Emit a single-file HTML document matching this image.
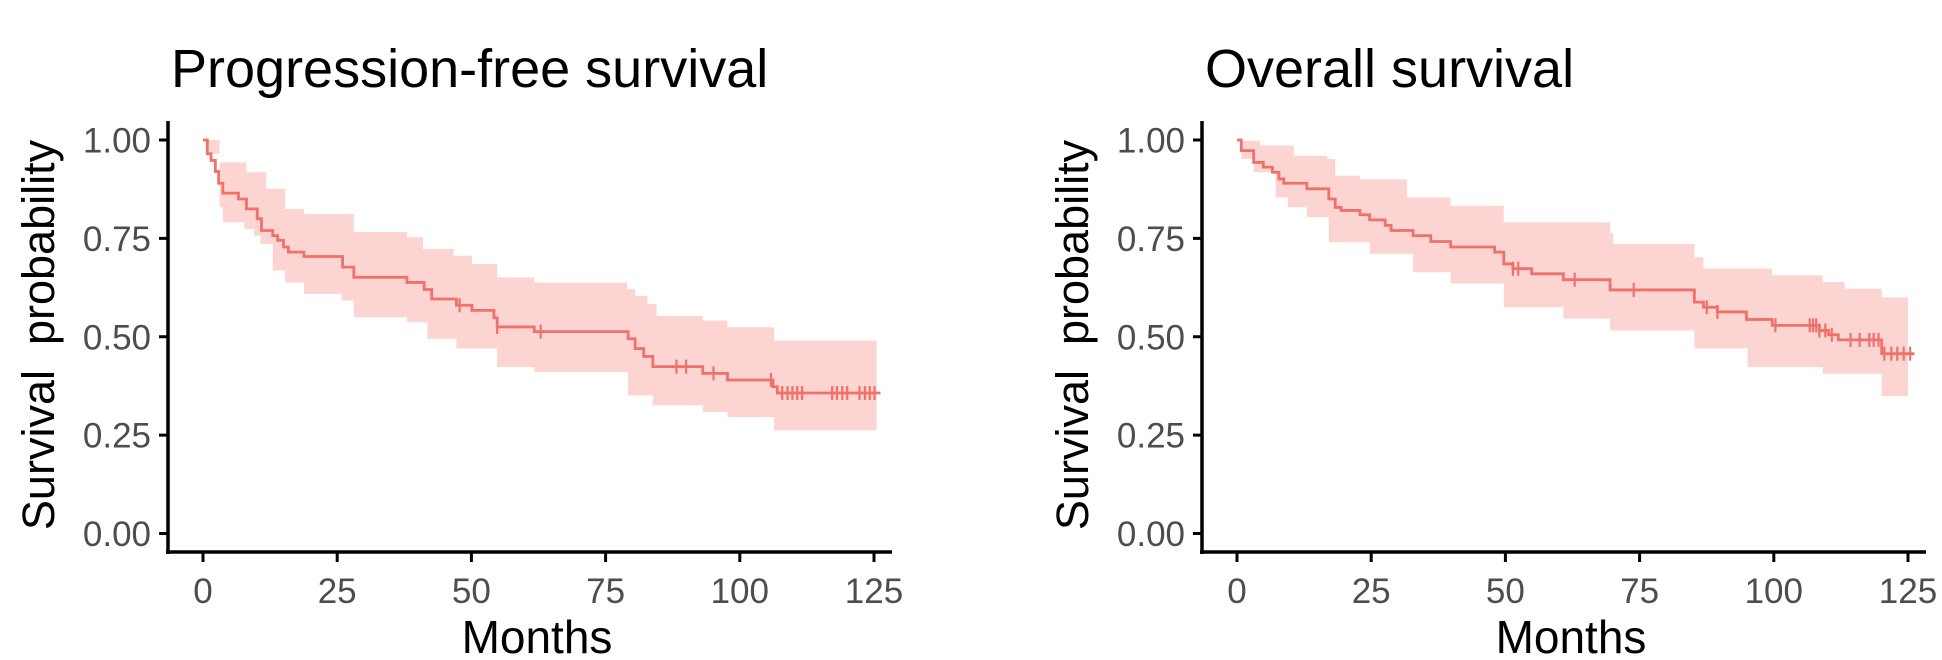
<!DOCTYPE html>
<html><head><meta charset="utf-8"><style>
html,body{margin:0;padding:0;background:#fff;}
svg{display:block;font-family:"Liberation Sans",Arial,sans-serif;}
</style></head><body>
<svg id="chart" width="1942" height="660" viewBox="0 0 1942 660" xmlns="http://www.w3.org/2000/svg"></svg>
<script>
const xTicks=[0,25,50,75,100,125];
const yTicks=[0,0.25,0.5,0.75,1];
const yTickLabels=["0.00","0.25","0.50","0.75","1.00"];
const pfsTitle="Progression-free survival";
const osTitle="Overall survival";
const pfsSteps=[[0,1],[0.8,0.965],[1.5,0.948],[2.3,0.92],[2.9,0.89],[3.7,0.865],[6.6,0.85],[8.1,0.825],[10.1,0.80],[10.9,0.77],[13.0,0.757],[13.9,0.745],[15.0,0.728],[15.9,0.715],[18.8,0.704],[26.0,0.677],[28.1,0.651],[38.0,0.638],[41.2,0.62],[42.6,0.596],[47.2,0.58],[50.1,0.567],[54.2,0.548],[54.8,0.525],[61.7,0.513],[79.2,0.495],[80.5,0.47],[82.1,0.45],[83.8,0.424],[93.1,0.407],[97.7,0.39],[106.2,0.373],[107.0,0.357]];
const pfsEnd=126.2;
const pfsUpper=[[0,1],[3.1,0.943],[8.1,0.918],[11.8,0.876],[15.3,0.825],[18.8,0.812],[28.1,0.766],[38.0,0.753],[41.0,0.723],[46.7,0.706],[50.1,0.685],[54.8,0.651],[61.7,0.638],[79.0,0.621],[80.5,0.604],[82.8,0.583],[84.5,0.553],[93.1,0.541],[97.7,0.524],[106.4,0.49]];
const pfsLower=[[0,1],[0.8,0.965],[3.1,0.829],[3.7,0.791],[7.7,0.774],[9.5,0.757],[10.7,0.736],[13.0,0.668],[15.3,0.638],[18.8,0.609],[25.8,0.592],[28.1,0.55],[38.0,0.537],[41.8,0.495],[47.2,0.47],[54.8,0.423],[61.7,0.41],[79.2,0.351],[83.8,0.326],[93.1,0.309],[97.7,0.296],[106.4,0.262]];
const pfsBandEnd=125.5;
const pfsCensor=[47.8,54.8,62.9,88.2,90.0,95.1,105.8,107.9,108.9,109.8,110.7,111.6,117.2,118.1,119.1,120.0,122.3,123.3,124.2,125.1];
const osSteps=[[0,1],[0.8,0.973],[3.1,0.943],[4.9,0.931],[6.6,0.918],[7.8,0.901],[8.7,0.89],[13.0,0.876],[17.1,0.85],[18.3,0.829],[19.4,0.821],[22.9,0.81],[24.7,0.797],[27.6,0.783],[28.7,0.77],[32.8,0.757],[36.1,0.742],[39.8,0.728],[48.0,0.715],[49.7,0.685],[51.4,0.673],[54.9,0.66],[60.8,0.645],[69.5,0.619],[85.2,0.588],[86.9,0.575],[89.5,0.563],[94.9,0.544],[99.7,0.529],[108.5,0.516],[110.2,0.505],[112.0,0.492],[120.1,0.457]];
const osEnd=126.2;
const osUpper=[[0,1],[0.8,0.998],[4.3,0.986],[10.6,0.96],[16.8,0.952],[18.3,0.909],[22.9,0.9],[31.7,0.854],[39.8,0.833],[49.7,0.791],[69.5,0.763],[70.1,0.736],[85.2,0.702],[86.9,0.673],[99.7,0.656],[109.1,0.639],[113.2,0.622],[120.1,0.6]];
const osLower=[[0,1],[0.8,0.952],[3.1,0.918],[7.2,0.854],[9.5,0.829],[13.0,0.804],[17.1,0.74],[24.7,0.711],[32.8,0.664],[39.8,0.635],[49.7,0.575],[60.8,0.546],[69.5,0.516],[85.2,0.47],[95.1,0.423],[109.1,0.406],[120.1,0.349]];
const osBandEnd=125.0;
const osCensor=[51.4,52.4,62.9,73.9,87.5,89.5,100.3,106.7,107.3,107.9,108.5,109.6,110.8,114.3,116.0,117.8,118.6,119.5,120.6,121.9,123.0,124.2,125.4];

const NS="http://www.w3.org/2000/svg";
const svg=document.getElementById('chart');
function mk(tag,attrs,parent){const e=document.createElementNS(NS,tag);for(const k in attrs)e.setAttribute(k,attrs[k]);(parent||svg).appendChild(e);return e;}

function panel(name,ox,title,steps,end,upper,lower,bandEnd,censor){
  const g=mk('g',{});
  
  
  const axX=ox, x0=ox+35, x125=ox+706, yTop=140, yBot=533.5, axY=552;
  const sx=v=>x0+(x125-x0)*v/125;
  const sy=v=>yBot-(yBot-yTop)*v;
  const t=mk('text',{x:ox+3,y:87,'font-size':54,fill:'#000'},g);t.textContent=title;
  
  
  let d='M'+sx(upper[0][0])+','+sy(upper[0][1]);
  for(let i=0;i<upper.length;i++){const nx=i+1<upper.length?upper[i+1][0]:bandEnd;d+=' L'+sx(upper[i][0])+','+sy(upper[i][1])+' L'+sx(nx)+','+sy(upper[i][1]);}
  for(let i=lower.length-1;i>=0;i--){const nx=i+1<lower.length?lower[i+1][0]:bandEnd;d+=' L'+sx(nx)+','+sy(lower[i][1])+' L'+sx(lower[i][0])+','+sy(lower[i][1]);}
  d+='Z';
  const band=mk('path',{d:d,fill:'#FCD5D2',stroke:'none'},g);
  
  
  let c='M'+sx(steps[0][0])+','+sy(steps[0][1]);
  for(let i=0;i<steps.length;i++){const nx=i+1<steps.length?steps[i+1][0]:end;c+=' L'+sx(nx)+','+sy(steps[i][1]);if(i+1<steps.length)c+=' L'+sx(nx)+','+sy(steps[i+1][1]);}
  const line=mk('path',{d:c,fill:'none',stroke:'#F0706A','stroke-width':2.8},g);
  
  
  censor.forEach(m=>{let v=steps[0][1];for(const s of steps){if(s[0]<=m)v=s[1];}
    const cm=mk('line',{x1:sx(m),x2:sx(m),y1:sy(v)-7,y2:sy(v)+7,stroke:'#F0706A','stroke-width':2.2},g);
    
    });
  const ya=mk('line',{x1:axX,x2:axX,y1:121,y2:axY+2,stroke:'#000','stroke-width':3.5},g);
  
  
  const xa=mk('line',{x1:axX-2,x2:ox+724,y1:axY,y2:axY,stroke:'#000','stroke-width':3.5},g);
  
  
  yTicks.forEach((v,i)=>{mk('line',{x1:axX-9,x2:axX,y1:sy(v),y2:sy(v),stroke:'#000','stroke-width':3},g);
    const l=mk('text',{x:axX-17,y:sy(v)+12.5,'font-size':35,fill:'#4d4d4d','text-anchor':'end'},g);l.textContent=yTickLabels[i];
    
    });
  xTicks.forEach(v=>{mk('line',{x1:sx(v),x2:sx(v),y1:axY,y2:axY+10,stroke:'#000','stroke-width':3},g);
    const l=mk('text',{x:sx(v),y:603,'font-size':35,fill:'#4d4d4d','text-anchor':'middle'},g);l.textContent=v;
    
    });
  const xt=mk('text',{x:ox+369,y:653,'font-size':46,fill:'#000','text-anchor':'middle'},g);xt.textContent='Months';
  
  
  const yt=mk('text',{x:0,y:0,'font-size':45,fill:'#000','text-anchor':'middle',transform:'translate('+(ox-114)+',335) rotate(-90)'},g);yt.textContent='Survival  probability';
  yt.setAttribute('style','white-space:pre');
  
  
}
panel('pfs',168,pfsTitle,pfsSteps,pfsEnd,pfsUpper,pfsLower,pfsBandEnd,pfsCensor);
panel('os',1202,osTitle,osSteps,osEnd,osUpper,osLower,osBandEnd,osCensor);
</script>
</body></html>
